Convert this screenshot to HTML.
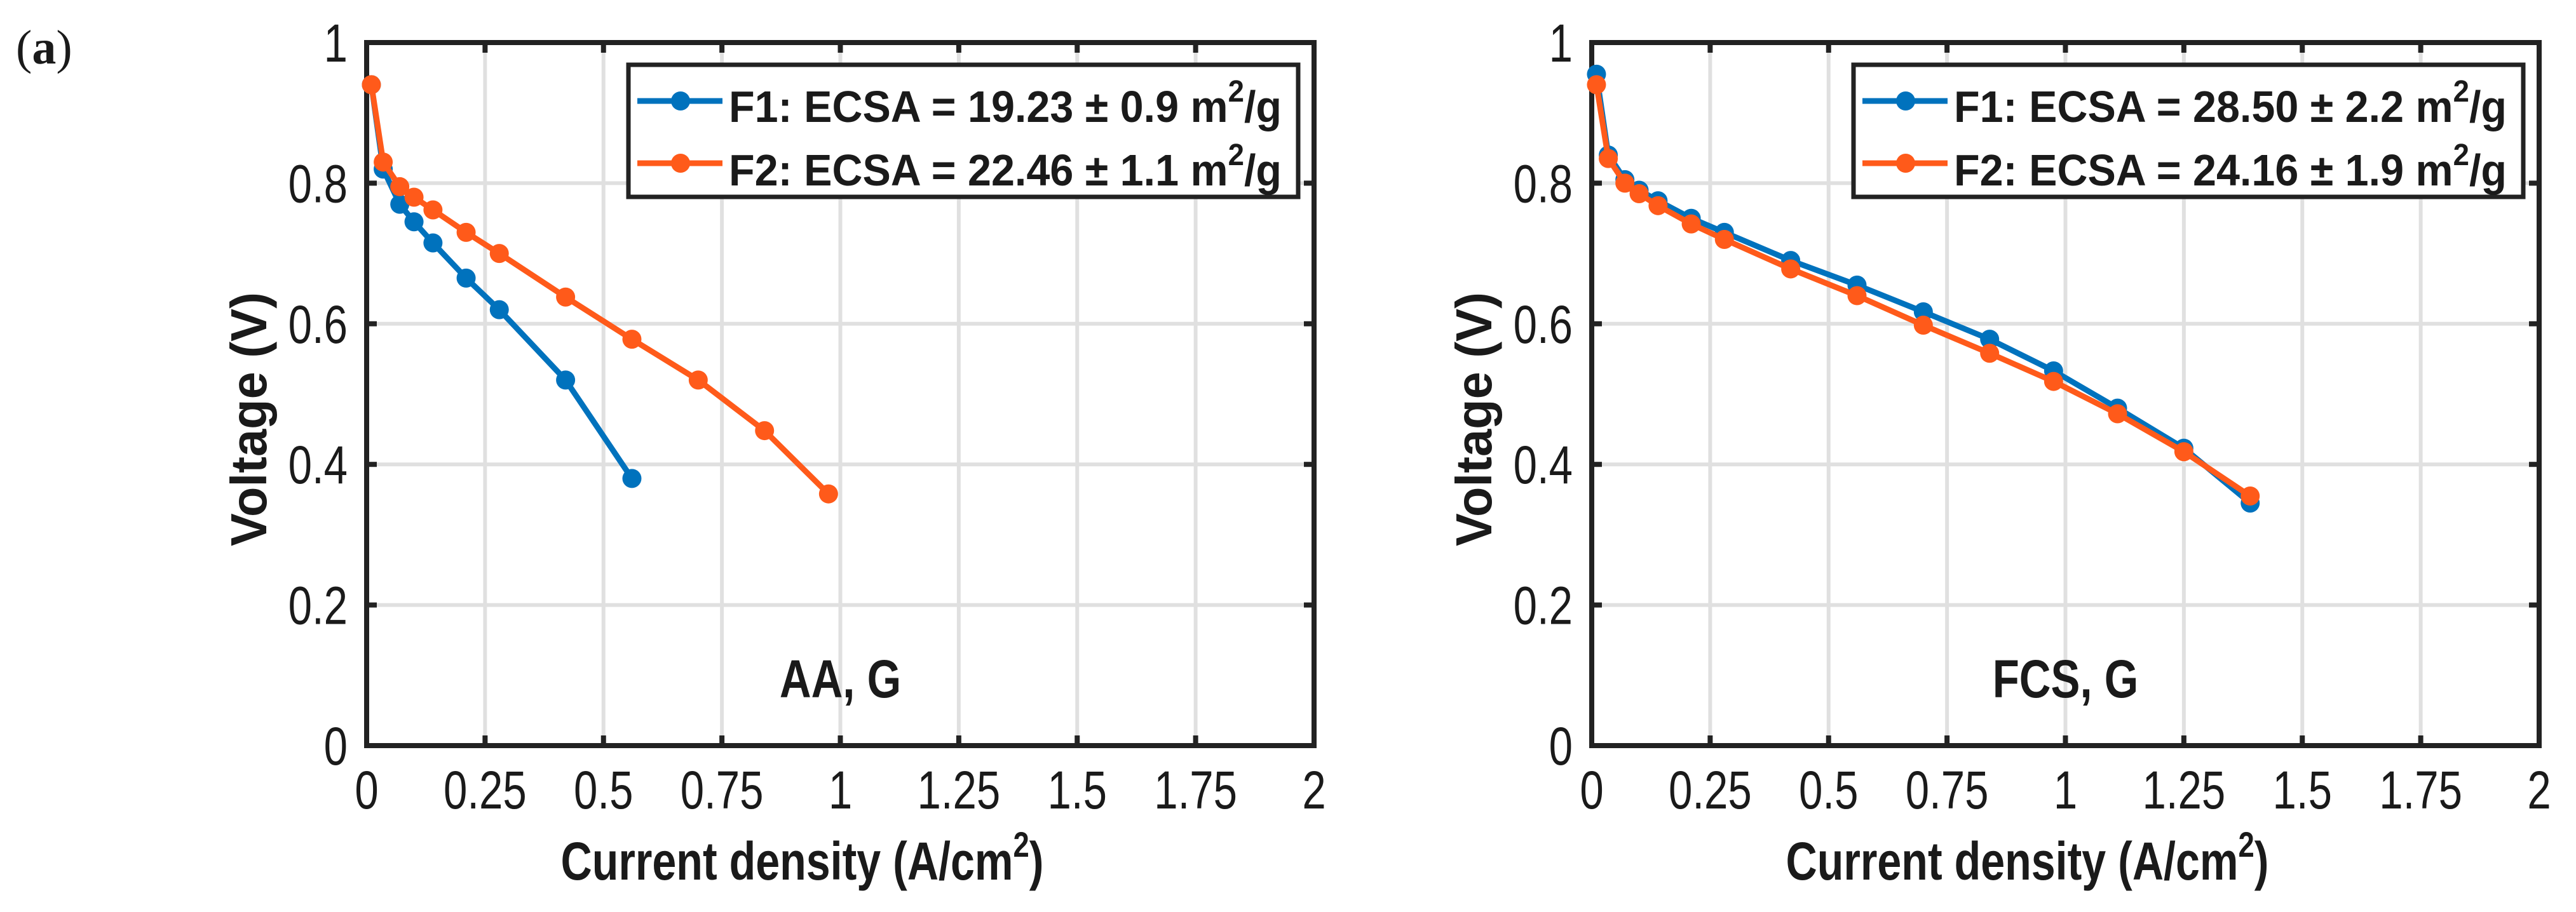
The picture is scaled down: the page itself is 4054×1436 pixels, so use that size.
<!DOCTYPE html>
<html><head><meta charset="utf-8"><style>
html,body{margin:0;padding:0;background:#fff;}
svg{display:block;}
text{font-family:"Liberation Sans",Arial,sans-serif;fill:#1a1a1a;}
</style></head><body>
<svg id="fig" width="4054" height="1436" viewBox="0 0 4054 1436" xmlns="http://www.w3.org/2000/svg">
<rect width="4054" height="1436" fill="#fff"/>
<text x="25" y="100" style="font-family:'Liberation Serif',serif;font-size:76px;">(<tspan font-weight="bold">a</tspan>)</text>
</svg>
<script>
const xTicks=[0,0.25,0.5,0.75,1,1.25,1.5,1.75,2];
const xTickLabels=["0","0.25","0.5","0.75","1","1.25","1.5","1.75","2"];
const yTicks=[0,0.2,0.4,0.6,0.8,1];
const yTickLabels=["0","0.2","0.4","0.6","0.8","1"];
const aaF1x=[0.01,0.035,0.07,0.1,0.14,0.21,0.28,0.42,0.56];
const aaF1y=[0.94,0.82,0.77,0.745,0.715,0.665,0.62,0.52,0.38];
const aaF2x=[0.01,0.035,0.07,0.1,0.14,0.21,0.28,0.42,0.56,0.70,0.84,0.975];
const aaF2y=[0.94,0.83,0.795,0.78,0.762,0.73,0.70,0.638,0.578,0.52,0.448,0.358];
const fcsF1x=[0.01,0.035,0.07,0.1,0.14,0.21,0.28,0.42,0.56,0.70,0.84,0.975,1.11,1.25,1.39];
const fcsF1y=[0.955,0.84,0.805,0.79,0.775,0.75,0.73,0.69,0.655,0.617,0.578,0.533,0.48,0.423,0.345];
const fcsF2x=[0.01,0.035,0.07,0.1,0.14,0.21,0.28,0.42,0.56,0.70,0.84,0.975,1.11,1.25,1.39];
const fcsF2y=[0.94,0.835,0.8,0.785,0.768,0.742,0.72,0.678,0.64,0.598,0.558,0.518,0.472,0.418,0.355];

const NS="http://www.w3.org/2000/svg";
const svg=document.getElementById('fig');
function mk(tag,attrs,parent,text){const e=document.createElementNS(NS,tag);for(const k in attrs)e.setAttribute(k,attrs[k]);if(text!==undefined)e.textContent=text;(parent||svg).appendChild(e);return e;}
const BLUE="#0072BD",ORANGE="#FF5A1A";
const SX=0.8;

function panel(opt){
  const L=opt.left,R=opt.left+1491,T=67,B=1174;
  const sx=v=>L+(v-0)/(2-0)*(R-L);
  const sy=v=>B-(v-0)/(1-0)*(B-T);
  const g=mk('g',{});
  
  
  xTicks.forEach(t=>{const l=mk('line',{x1:sx(t),x2:sx(t),y1:T,y2:B,stroke:'#e0e0e0','stroke-width':6},g);
    });
  yTicks.forEach(t=>{const l=mk('line',{x1:L,x2:R,y1:sy(t),y2:sy(t),stroke:'#e0e0e0','stroke-width':6},g);
    });
  xTicks.forEach((t,i)=>{
    mk('line',{x1:sx(t),x2:sx(t),y1:B,y2:B-16,stroke:'#222','stroke-width':8},g);
    mk('line',{x1:sx(t),x2:sx(t),y1:T,y2:T+16,stroke:'#222','stroke-width':8},g);
    const tx=mk('text',{x:0,y:0,'text-anchor':'middle','font-size':84,transform:`translate(${sx(t)},1273) scale(${SX},1)`},g,xTickLabels[i]);
    
  });
  yTicks.forEach((t,i)=>{
    mk('line',{x1:L,x2:L+16,y1:sy(t),y2:sy(t),stroke:'#222','stroke-width':8},g);
    mk('line',{x1:R,x2:R-16,y1:sy(t),y2:sy(t),stroke:'#222','stroke-width':8},g);
    const tx=mk('text',{x:0,y:0,'text-anchor':'end','font-size':84,transform:`translate(${L-30},${sy(t)+30}) scale(${SX},1)`},g,yTickLabels[i]);
    
  });
  const fr=mk('rect',{x:L,y:T,width:R-L,height:B-T,fill:'none',stroke:'#222','stroke-width':8},g);
  
  [[opt.f1x,opt.f1y,BLUE,'series-f1'],[opt.f2x,opt.f2y,ORANGE,'series-f2']].forEach(s=>{
    const pts=s[0].map((x,i)=>sx(x)+','+sy(s[1][i])).join(' ');
    const pl=mk('polyline',{points:pts,fill:'none',stroke:s[2],'stroke-width':9,'stroke-linejoin':'round'},g);
    
    s[0].forEach((x,i)=>{const c=mk('circle',{cx:sx(x),cy:sy(s[1][i]),r:15,fill:s[2]},g);
      });
  });
  const lg=mk('g',{},g);
  
  const lx=opt.left+opt.legOff;
  mk('rect',{x:lx,y:102,width:1054,height:208,fill:'#fff',stroke:'#222','stroke-width':7},lg);
  [[159,192,BLUE,opt.leg1],[257,292,ORANGE,opt.leg2]].forEach((r,i)=>{
    const e=mk('g',{},lg);
    
    mk('line',{x1:lx+14,x2:lx+148,y1:r[0],y2:r[0],stroke:r[2],'stroke-width':9},e);
    mk('circle',{cx:lx+82,cy:r[0],r:15,fill:r[2]},e);
    const t=mk('text',{x:lx+158,y:r[1],'font-size':70,'font-weight':'bold',textLength:870,lengthAdjust:'spacingAndGlyphs'},e);
    t.appendChild(document.createTextNode(r[3]+' m'));
    mk('tspan',{dy:-32,'font-size':48},t,'2');
    mk('tspan',{dy:32,'font-size':70},t,'/g');
  });
  const an=mk('text',{x:0,y:0,'text-anchor':'middle','font-size':84,'font-weight':'bold',transform:`translate(${sx(opt.annX)},1098) scale(0.82,1)`},g,opt.ann);
  
  const yl=mk('text',{x:0,y:0,'text-anchor':'middle','font-size':80,'font-weight':'bold',transform:`translate(${L-158},660) rotate(-90)`,textLength:400,lengthAdjust:'spacingAndGlyphs'},g,'Voltage (V)');
  
  const xl=mk('text',{x:(L+R)/2-60,y:1385,'text-anchor':'middle','font-size':84,'font-weight':'bold',textLength:760,lengthAdjust:'spacingAndGlyphs'},g);
  xl.appendChild(document.createTextNode('Current density (A/cm'));
  mk('tspan',{dy:-36,'font-size':56},xl,'2');
  mk('tspan',{dy:36,'font-size':84},xl,')');
  
}
panel({name:'chart-aa-g',left:577,legOff:412,f1x:aaF1x,f1y:aaF1y,f2x:aaF2x,f2y:aaF2y,
  leg1:'F1: ECSA = 19.23 ± 0.9',leg2:'F2: ECSA = 22.46 ± 1.1',ann:'AA, G',annX:1.0});
panel({name:'chart-fcs-g',left:2505,legOff:412,f1x:fcsF1x,f1y:fcsF1y,f2x:fcsF2x,f2y:fcsF2y,
  leg1:'F1: ECSA = 28.50 ± 2.2',leg2:'F2: ECSA = 24.16 ± 1.9',ann:'FCS, G',annX:1.0});
</script>
</body></html>
